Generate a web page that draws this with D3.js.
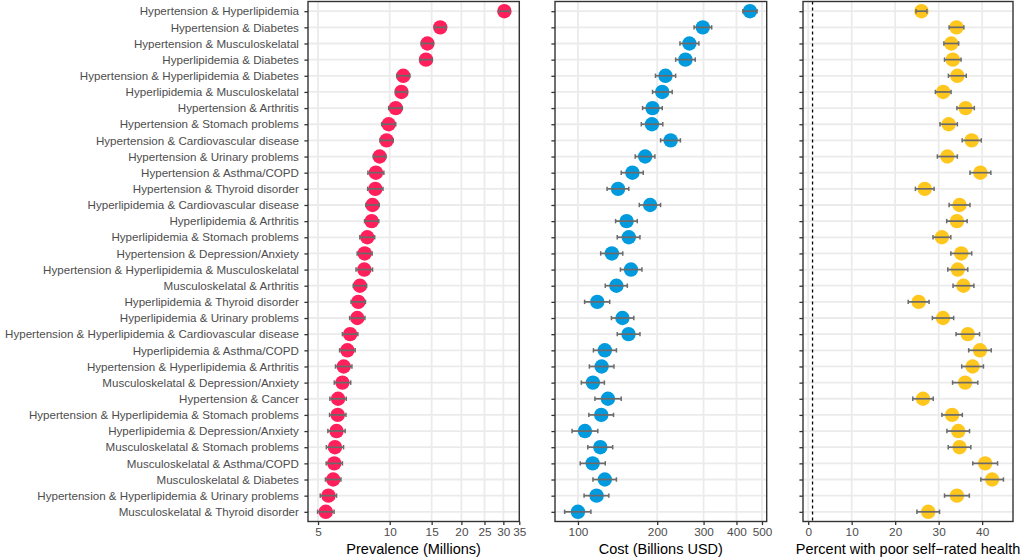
<!DOCTYPE html>
<html>
<head>
<meta charset="utf-8">
<script src="https://cdn.jsdelivr.net/npm/d3@7"></script>
<style>
body { margin: 0; background: #fff; }
svg { font-family: "Liberation Sans", Arial, sans-serif; }
</style>
</head>
<body>
<svg id="chart" width="1021" height="558"></svg>
<script>
var pairs = [
    "Hypertension & Hyperlipidemia",
    "Hypertension & Diabetes",
    "Hypertension & Musculoskelatal",
    "Hyperlipidemia & Diabetes",
    "Hypertension & Hyperlipidemia & Diabetes",
    "Hyperlipidemia & Musculoskelatal",
    "Hypertension & Arthritis",
    "Hypertension & Stomach problems",
    "Hypertension & Cardiovascular disease",
    "Hypertension & Urinary problems",
    "Hypertension & Asthma/COPD",
    "Hypertension & Thyroid disorder",
    "Hyperlipidemia & Cardiovascular disease",
    "Hyperlipidemia & Arthritis",
    "Hyperlipidemia & Stomach problems",
    "Hypertension & Depression/Anxiety",
    "Hypertension & Hyperlipidemia & Musculoskelatal",
    "Musculoskelatal & Arthritis",
    "Hyperlipidemia & Thyroid disorder",
    "Hyperlipidemia & Urinary problems",
    "Hypertension & Hyperlipidemia & Cardiovascular disease",
    "Hyperlipidemia & Asthma/COPD",
    "Hypertension & Hyperlipidemia & Arthritis",
    "Musculoskelatal & Depression/Anxiety",
    "Hypertension & Cancer",
    "Hypertension & Hyperlipidemia & Stomach problems",
    "Hyperlipidemia & Depression/Anxiety",
    "Musculoskelatal & Stomach problems",
    "Musculoskelatal & Asthma/COPD",
    "Musculoskelatal & Diabetes",
    "Hypertension & Hyperlipidemia & Urinary problems",
    "Musculoskelatal & Thyroid disorder"
];

// prevalence, millions
var prevalence = [30.3, 16.3, 14.4, 14.2, 11.4, 11.2, 10.6, 9.9, 9.7, 9.07, 8.75, 8.7, 8.47, 8.4, 8.05, 7.85,
    7.82, 7.5, 7.38, 7.31, 6.82, 6.64, 6.41, 6.33, 6.07, 6.05, 5.98, 5.89, 5.85, 5.79, 5.53, 5.39];
var prevalenceLow = [28.8, 15.5, 13.6, 13.4, 10.7, 10.6, 9.9, 9.25, 9.1, 8.55, 8.1, 8.08, 7.94, 7.84, 7.49, 7.3,
    7.22, 7.03, 6.88, 6.79, 6.33, 6.16, 5.92, 5.85, 5.61, 5.59, 5.5, 5.42, 5.41, 5.37, 5.11, 4.98];
var prevalenceHigh = [31.9, 17.2, 15.2, 15.1, 12.15, 11.8, 11.3, 10.6, 10.35, 9.63, 9.45, 9.37, 9.04, 9.0, 8.65, 8.44,
    8.47, 8.0, 7.91, 7.87, 7.35, 7.16, 6.94, 6.86, 6.57, 6.55, 6.5, 6.4, 6.33, 6.24, 5.98, 5.84];

// cost, billions USD
var cost = [450, 298, 265, 256, 215, 209, 192, 191, 225, 180, 161, 142, 188, 153, 156, 134.5,
    159, 140, 118.4, 147.6, 155.6, 126.5, 123, 114, 130, 122.6, 106.3, 121.6, 113.7, 126.5, 117.7, 100];
var costLow = [423, 276, 244, 235, 197, 192, 176, 174, 206, 165, 146, 129, 171, 139, 141, 122,
    145, 127, 106, 134, 141, 114.5, 110.5, 103, 116, 110, 95, 109, 102, 114, 105.5, 89];
var costHigh = [479, 322, 288, 279, 235, 228, 209, 210, 245, 196, 177, 156, 206, 168, 172, 148,
    175, 154, 132, 163, 172, 140, 137, 126, 146, 136.5, 119, 135.5, 127, 140, 131, 112];

// percent with poor self-rated health
var poorHealth = [26.05, 34.1, 32.9, 33.25, 34.3, 31.05, 36.2, 32.3, 37.6, 32.0, 39.6, 26.8, 34.8, 34.2, 30.75, 35.2,
    34.4, 35.7, 25.4, 31.0, 36.7, 39.5, 37.8, 36.1, 26.4, 33.1, 34.5, 34.8, 40.7, 42.3, 34.2, 27.6];
var poorHealthLow = [24.8, 32.4, 31.2, 31.35, 32.25, 29.25, 34.2, 30.3, 35.4, 29.7, 37.2, 24.65, 32.4, 31.85, 28.7, 32.8,
    32.1, 33.3, 23.0, 28.55, 34.0, 36.9, 35.3, 33.2, 24.05, 30.75, 31.9, 32.2, 37.85, 39.7, 31.35, 25.0];
var poorHealthHigh = [27.3, 35.8, 34.6, 35.15, 36.35, 32.85, 38.2, 34.3, 39.8, 34.3, 42.0, 28.95, 37.2, 36.55, 32.8, 37.6,
    36.7, 38.1, 27.8, 33.45, 39.4, 42.1, 40.3, 39.0, 28.75, 35.45, 37.1, 37.4, 43.55, 44.9, 37.05, 30.2];

var prevalenceTicks = [5, 10, 15, 20, 25, 30, 35];
var costTicks = [100, 200, 300, 400, 500];
var healthTicks = [0, 10, 20, 30, 40];
var referenceLine = [1];

var svg = d3.select("#chart");
var plotTop = 1.5, plotBottom = 521.5;

var yScale = d3.scalePoint()
    .domain(pairs)
    .range([plotTop, plotBottom])
    .padding(0.6);

function drawPanel(opts) {
    var left = opts.left, right = opts.right;
    var rows = pairs.map(function (p, i) {
        return {name: p, v: opts.values[i], lo: opts.low[i], hi: opts.high[i]};
    });

    var xScale;
    if (opts.log) {
        // ggplot style 5% expansion, done in log space
        var lmin = Math.log10(d3.min(opts.low)), lmax = Math.log10(d3.max(opts.high));
        var e = (lmax - lmin) * 0.05;
        xScale = d3.scaleLog()
            .domain([Math.pow(10, lmin - e), Math.pow(10, lmax + e)])
            .range([left, right]);
    } else {
        var mn = Math.min(d3.min(opts.low), d3.min(opts.extra)), mx = d3.max(opts.high);
        var e2 = (mx - mn) * 0.05;
        xScale = d3.scaleLinear()
            .domain([mn - e2, mx + e2])
            .range([left, right]);
    }

    var g = svg.append("g");

    //grid
    g.selectAll(".vgrid")
        .data(opts.ticks)
        .enter()
        .append("line")
        .attr("x1", function (d) { return xScale(d); })
        .attr("x2", function (d) { return xScale(d); })
        .attr("y1", plotTop)
        .attr("y2", plotBottom)
        .attr("stroke", "#ebebeb")
        .attr("stroke-width", 1.8);

    g.selectAll(".hgrid")
        .data(pairs)
        .enter()
        .append("line")
        .attr("x1", left)
        .attr("x2", right)
        .attr("y1", function (d) { return yScale(d); })
        .attr("y2", function (d) { return yScale(d); })
        .attr("stroke", "#ebebeb")
        .attr("stroke-width", 1.8);

    if (opts.extra) {
        g.selectAll(".vref")
            .data(opts.extra)
            .enter()
            .append("line")
            .attr("x1", function (d) { return xScale(d); })
            .attr("x2", function (d) { return xScale(d); })
            .attr("y1", plotTop)
            .attr("y2", plotBottom)
            .attr("stroke", "#000")
            .attr("stroke-width", 1.3)
            .attr("stroke-dasharray", "3,3");
    }

    //points
    g.selectAll("circle")
        .data(rows)
        .enter()
        .append("circle")
        .attr("cx", function (d) { return xScale(d.v); })
        .attr("cy", function (d) { return yScale(d.name); })
        .attr("r", 7.2)
        .attr("fill", opts.color);

    //error bars on top of points
    var eb = g.selectAll(".eb")
        .data(rows)
        .enter()
        .append("g");
    eb.append("line")
        .attr("x1", function (d) { return xScale(d.lo); })
        .attr("x2", function (d) { return xScale(d.hi); })
        .attr("y1", function (d) { return yScale(d.name); })
        .attr("y2", function (d) { return yScale(d.name); })
        .attr("stroke", "#6a6a6a")
        .attr("stroke-width", 1.7);
    eb.append("line")
        .attr("x1", function (d) { return xScale(d.lo); })
        .attr("x2", function (d) { return xScale(d.lo); })
        .attr("y1", function (d) { return yScale(d.name) - 2.2; })
        .attr("y2", function (d) { return yScale(d.name) + 2.2; })
        .attr("stroke", "#6a6a6a")
        .attr("stroke-width", 1.5);
    eb.append("line")
        .attr("x1", function (d) { return xScale(d.hi); })
        .attr("x2", function (d) { return xScale(d.hi); })
        .attr("y1", function (d) { return yScale(d.name) - 2.2; })
        .attr("y2", function (d) { return yScale(d.name) + 2.2; })
        .attr("stroke", "#6a6a6a")
        .attr("stroke-width", 1.5);

    //border
    g.append("rect")
        .attr("x", left)
        .attr("y", plotTop)
        .attr("width", right - left)
        .attr("height", plotBottom - plotTop)
        .attr("fill", "none")
        .attr("stroke", "#333")
        .attr("stroke-width", 1.4);

    //x axis
    var xAxis = d3.axisBottom(xScale)
        .tickValues(opts.ticks)
        .tickFormat(d3.format("d"))
        .tickSize(3.6)
        .tickPadding(2.6);
    var xg = g.append("g")
        .attr("transform", "translate(0," + plotBottom + ")")
        .call(xAxis);
    xg.select(".domain").remove();
    xg.selectAll(".tick line").attr("stroke", "#333").attr("stroke-width", 1.3);
    xg.selectAll(".tick text")
        .attr("fill", "#4d4d4d")
        .style("font-size", "11.8px")
        .style("font-family", "Liberation Sans, Arial, sans-serif");

    //y axis
    var yAxis = d3.axisLeft(yScale)
        .tickSize(3.6)
        .tickPadding(5.5);
    var yg = g.append("g")
        .attr("transform", "translate(" + left + ",0)")
        .call(yAxis);
    yg.select(".domain").remove();
    yg.selectAll(".tick line").attr("stroke", "#333").attr("stroke-width", 1.3);
    if (opts.labels) {
        yg.selectAll(".tick text")
            .attr("fill", "#4d4d4d")
            .style("font-size", "11.6px")
            .style("font-family", "Liberation Sans, Arial, sans-serif");
    } else {
        yg.selectAll(".tick text").remove();
    }

    svg.append("text")
        .attr("x", (left + right) / 2)
        .attr("y", 554)
        .attr("text-anchor", "middle")
        .style("font-size", "14.5px")
        .attr("fill", "#000")
        .text(opts.title);
}

drawPanel({
    left: 308, right: 519.3, log: true,
    values: prevalence, low: prevalenceLow, high: prevalenceHigh,
    ticks: prevalenceTicks, color: "#FF1F5B", labels: true,
    title: "Prevalence (Millions)"
});

drawPanel({
    left: 555, right: 766.7, log: true,
    values: cost, low: costLow, high: costHigh,
    ticks: costTicks, color: "#009ADE", labels: false,
    title: "Cost (Billions USD)"
});

drawPanel({
    left: 803, right: 1013, log: false,
    values: poorHealth, low: poorHealthLow, high: poorHealthHigh, extra: referenceLine,
    ticks: healthTicks, color: "#FFC61E", labels: false,
    title: "Percent with poor self\u2212rated health"
});
</script>
</body>
</html>
